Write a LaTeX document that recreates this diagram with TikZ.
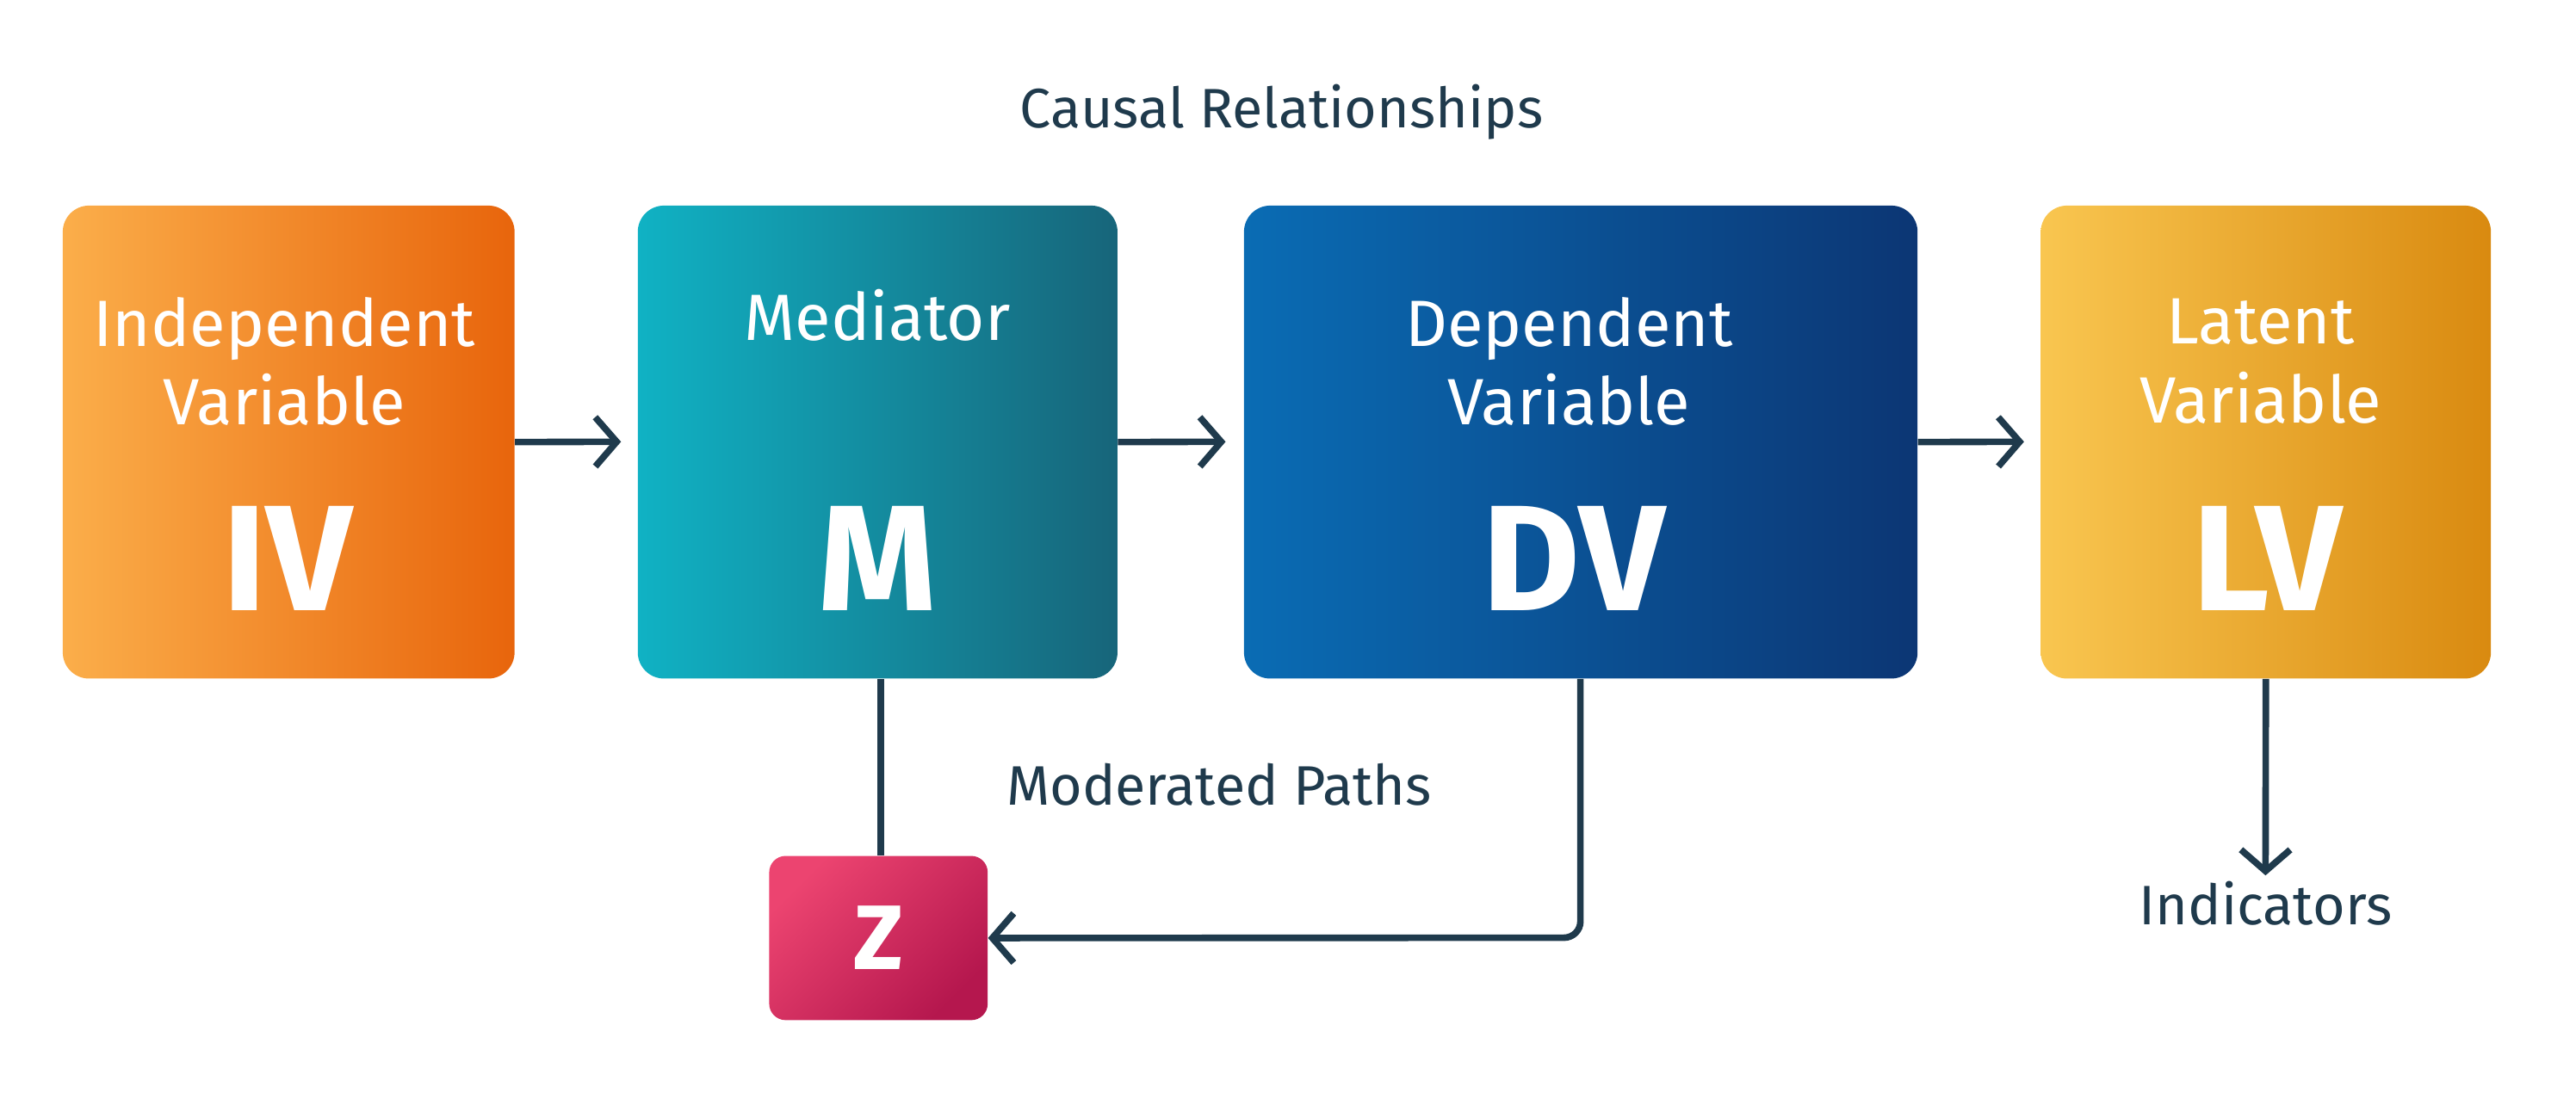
\documentclass[tikz,border=0pt]{standalone}
\usepackage{fontspec}
\setmainfont{Fira Sans}
\usetikzlibrary{arrows.meta}
\definecolor{ink}{HTML}{1F3A4C}
\definecolor{ivA}{HTML}{FBAE4A}\definecolor{ivB}{HTML}{E8650C}
\definecolor{mA}{HTML}{10B2C4}\definecolor{mB}{HTML}{17657A}
\definecolor{dvA}{HTML}{0A6CB4}\definecolor{dvB}{HTML}{0C3674}
\definecolor{lvA}{HTML}{F9C650}\definecolor{lvB}{HTML}{D98A10}
\definecolor{zA}{HTML}{EC4470}\definecolor{zB}{HTML}{B5174E}
\begin{document}
\begin{tikzpicture}[x=1bp,y=-1bp,
  box/.style={rounded corners=16bp,draw=none,minimum height=288bp,anchor=north west,inner sep=0pt,shading angle=45},
  lab/.style={text=white,font=\fontsize{40}{48}\selectfont,align=center},
  big/.style={text=white,font=\fontsize{92}{92}\selectfont\bfseries},
  captxt/.style={text=ink,font=\fontsize{34}{40}\selectfont},
  arr/.style={draw=ink,line width=4bp,-{Straight Barb[length=13bp,width=30bp,line width=4bp]}},
  ln/.style={draw=ink,line width=4bp}]
\useasboundingbox (0,0) rectangle (1568,669);
\node[box,minimum width=275bp,left color=ivA,right color=ivB] (iv) at (38,125) {};
\node[box,minimum width=292bp,left color=mA,right color=mB] (m) at (388,125) {};
\node[box,minimum width=410bp,left color=dvA,right color=dvB] (dv) at (757,125) {};
\node[box,minimum width=274bp,left color=lvA,right color=lvB] (lv) at (1242,125) {};
\node[rounded corners=10bp,anchor=north west,minimum width=133bp,minimum height=100bp,left color=zA,right color=zB,shading angle=45,font=\fontsize{56}{56}\selectfont\bfseries,text=white] (z) at (468,521) {Z};
\node[lab] (ivt) at (173,220) {Independent\\Variable};
\node[big] (ivb) at (175,340) {IV};
\node[lab] (mt) at (534,192) {Mediator};
\node[big] (mb) at (534,340) {M};
\node[lab] (dvt) at (955,220) {Dependent\\Variable};
\node[big] (dvb) at (958,340) {DV};
\node[lab] (lvt) at (1376,220) {Latent\\Variable};
\node[big] (lvb) at (1380,340) {LV};
\node[captxt] (c1) at (780,68) {Causal Relationships};
\node[captxt] (c2) at (742,478) {Moderated Paths};
\node[captxt] (ind) at (1379,550) {Indicators};
\coordinate (a1) at (378,269);
\coordinate (a2) at (746,269);
\coordinate (a3) at (1232,269);
\coordinate (mz) at (536,521);
\coordinate (bend) at (962,571);
\draw[arr] (iv.east) -- (a1);
\draw[arr] (m.east) -- (a2);
\draw[arr] (dv.east) -- (a3);
\draw[ln] (m.south-|mz) -- (mz);
\draw[arr,rounded corners=10bp] (dv.south-|bend) -- (bend) -- (z.east);
\draw[arr] (lv.south) -- (ind.north);
\end{tikzpicture}
\end{document}
